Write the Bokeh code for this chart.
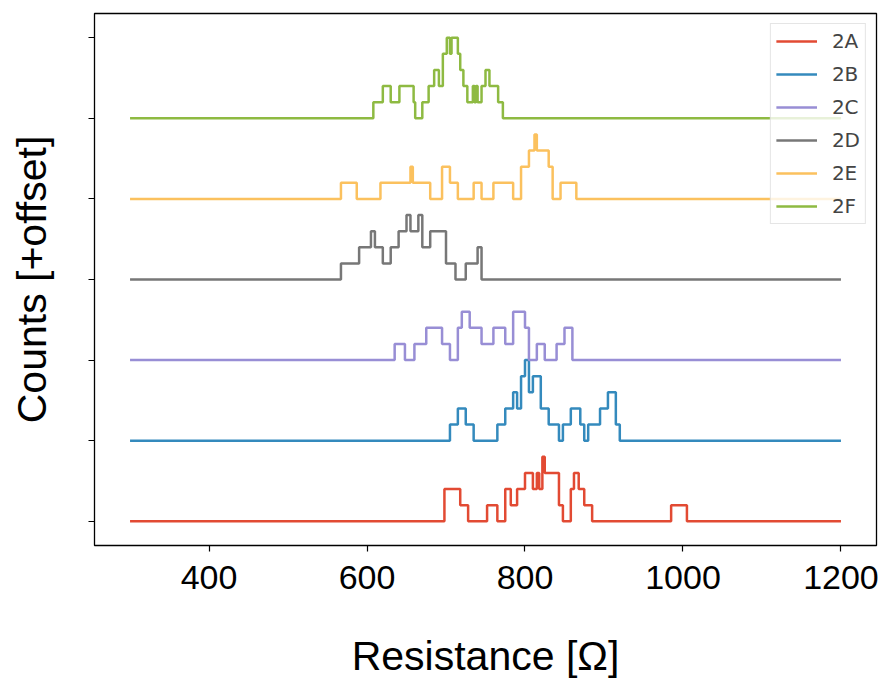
from bokeh.plotting import figure
from bokeh.embed import file_html
from bokeh.resources import INLINE
from bokeh.models import Legend, LegendItem, FixedTicker

labels = ["2A", "2B", "2C", "2D", "2E", "2F"]
colors = ["#E24A33", "#348ABD", "#988ED5", "#777777", "#FBC15E", "#8EBA42"]

# step edges (Ohm) and count levels (value holds from edge i to edge i+1)
x_2A = [300, 698, 718, 728, 752, 765, 775, 782, 790, 800, 810, 815, 818, 822, 825, 830, 843, 848, 858, 862, 868, 875, 885, 925, 985, 1005, 1200]
c_2A = [0, 2, 1, 0, 1, 0, 2, 1, 2, 3, 2, 3, 2, 4, 3, 3, 1, 0, 2, 3, 2, 1, 0, 0, 1, 0, 0]
x_2B = [300, 705, 715, 725, 735, 765, 775, 785, 790, 795, 800, 805, 810, 820, 830, 843, 848, 858, 870, 875, 880, 895, 905, 915, 920, 1200]
c_2B = [0, 1, 2, 1, 0, 1, 2, 3, 2, 4, 5, 3, 4, 2, 1, 0, 1, 2, 1, 0, 1, 2, 3, 1, 0, 0]
x_2C = [300, 635, 648, 660, 675, 695, 705, 715, 720, 730, 745, 760, 775, 785, 800, 805, 815, 825, 840, 850, 860, 1200]
c_2C = [0, 1, 0, 1, 2, 1, 0, 2, 3, 2, 1, 2, 1, 3, 2, 0, 1, 0, 1, 2, 0, 0]
x_2D = [300, 567, 590, 605, 610, 620, 630, 640, 650, 655, 665, 670, 680, 700, 712, 725, 740, 745, 1200]
c_2D = [0, 1, 2, 3, 2, 1, 2, 3, 4, 3, 4, 2, 3, 1, 0, 1, 2, 0, 0]
x_2E = [300, 567, 587, 617, 650, 655, 658, 665, 680, 695, 705, 715, 735, 745, 760, 785, 795, 805, 812, 815, 820, 830, 835, 845, 865, 1200]
c_2E = [0, 1, 0, 1, 1, 2, 1, 1, 0, 2, 1, 0, 1, 0, 1, 0, 2, 3, 4, 3, 3, 2, 0, 1, 0, 0]
x_2F = [300, 608, 620, 630, 641, 659, 661, 670, 678, 685, 691, 696, 701, 705, 707, 715, 718, 722, 727, 734, 736, 738, 740, 745, 750, 755, 766, 772, 1200]
c_2F = [0, 1, 2, 1, 2, 1, 0, 1, 2, 3, 2, 4, 5, 4, 5, 4, 3, 2, 1, 2, 1, 2, 1, 2, 3, 2, 1, 0, 0]

series_x = [x_2A, x_2B, x_2C, x_2D, x_2E, x_2F]
series_c = [c_2A, c_2B, c_2C, c_2D, c_2E, c_2F]
level_scale = 0.2
x_ticks = [400, 600, 800, 1000, 1200]
y_ticks = [0, 1, 2, 3, 4, 5, 6]

p = figure(width=885, height=681, output_backend="svg", toolbar_location=None,
           x_range=(255, 1245), y_range=(-0.3, 6.3))
p.min_border_left = 94
p.min_border_right = 9
p.min_border_top = 13
p.min_border_bottom = 136
p.grid.visible = False
p.outline_line_color = "black"
p.outline_line_width = 1.3
p.background_fill_color = "white"
p.border_fill_color = "white"

items = []
for i, (xs, cs) in enumerate(zip(series_x, series_c)):
    ys = [i + c * level_scale for c in cs]
    r = p.step(xs, ys, mode="after", line_color=colors[i], line_width=2.5)
    items.append(LegendItem(label=labels[i], renderers=[r]))

legend = Legend(items=items, location="top_right")
legend.label_text_font = "DejaVu Sans"
legend.label_text_font_size = "20px"
legend.glyph_width = 41
legend.glyph_height = 20
legend.label_height = 20
legend.label_standoff = 15
legend.spacing = 9
legend.padding = 5
legend.margin = 10
legend.border_line_color = "#cccccc"
legend.border_line_width = 1
legend.background_fill_alpha = 0.8
p.add_layout(legend, "center")

p.xaxis.ticker = FixedTicker(ticks=x_ticks)
p.yaxis.ticker = FixedTicker(ticks=y_ticks)
for ax in (p.xaxis, p.yaxis):
    ax.minor_tick_line_color = None
    ax.major_tick_out = 6
    ax.major_tick_in = 0
    ax.major_tick_line_width = 1.2
    ax.axis_line_color = None
    ax.axis_label_text_font = "Liberation Sans"
    ax.axis_label_text_font_style = "normal"
    ax.axis_label_text_font_size = "41px"
    ax.axis_label_text_color = "black"
    ax.major_label_text_font = "Liberation Sans"
    ax.major_label_text_color = "black"

p.xaxis.axis_label = "Resistance [Ω]"
p.xaxis.major_label_text_font_size = "34px"
p.xaxis.major_label_standoff = 14
p.xaxis.axis_label_standoff = 41
p.yaxis.axis_label = "Counts [+offset]"
p.yaxis.major_label_text_font_size = "0px"
p.yaxis.axis_label_standoff = 34

open("out.html", "w").write(file_html(p, INLINE))
